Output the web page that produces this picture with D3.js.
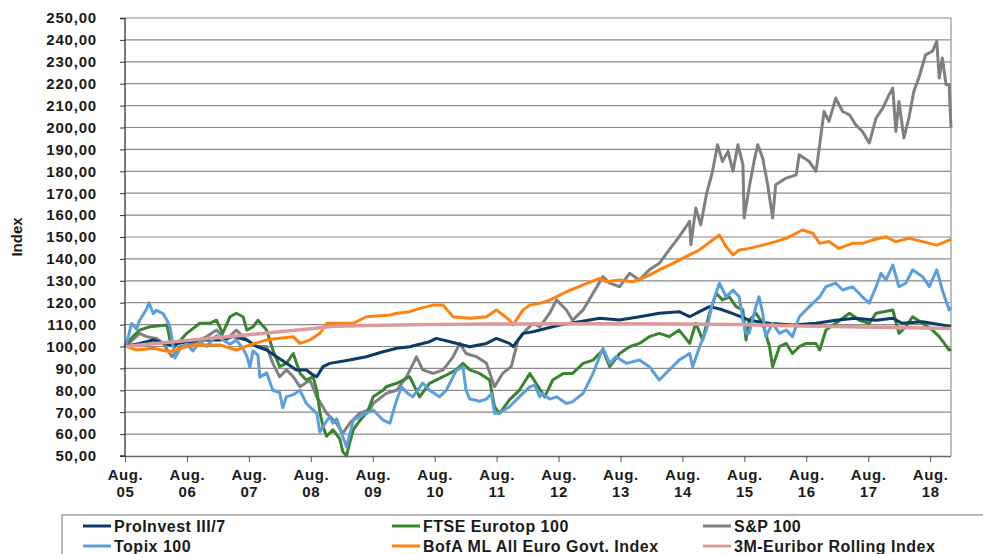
<!DOCTYPE html>
<html>
<head>
<meta charset="utf-8">
<script src="https://cdn.jsdelivr.net/npm/d3@7"></script>
<style>
  body { margin: 0; background: #fff; }
  text { font-family: "Liberation Sans", Arial, sans-serif; font-weight: bold; fill: #1a1a1a; }
</style>
</head>
<body>
<div id="chart"></div>
<script>
// Values, [decimal year, index]
const proInvest = [[2005.58,100],[2005.82,101.4],[2006.04,103],[2006.31,100.7],[2006.58,102.2],[2006.85,103],[2007.12,103],[2007.33,104.5],[2007.55,103],[2007.71,100],[2007.87,98.4],[2008.03,95.3],[2008.19,92.3],[2008.35,89.3],[2008.51,89.3],[2008.62,87],[2008.68,86.2],[2008.78,90.8],[2008.89,92.3],[2009.21,93.8],[2009.48,95.3],[2009.75,97.6],[2009.97,99.2],[2010.18,99.9],[2010.5,102.2],[2010.61,103.7],[2010.83,102.2],[2011.15,99.9],[2011.42,101.4],[2011.58,103.7],[2011.79,101.4],[2011.85,99.9],[2012.01,106],[2012.17,106.7],[2012.28,107.5],[2012.6,109.8],[2012.92,111.3],[2013.25,112.9],[2013.57,112.1],[2013.89,113.6],[2014.21,115.2],[2014.53,115.9],[2014.7,113.6],[2014.86,115.9],[2015.02,118.2],[2015.2,117],[2015.4,115],[2015.66,112],[2015.99,110.6],[2016.36,109.8],[2016.74,110.6],[2017.06,112],[2017.38,112.9],[2017.71,112],[2017.98,112.9],[2018.13,110.6],[2018.46,111.3],[2018.78,109.8],[2018.92,109]];

const topix = [[2005.58,100],[2005.61,101.5],[2005.69,110.5],[2005.77,108],[2005.82,112],[2005.93,117],[2005.97,120],[2006.04,115],[2006.09,116.5],[2006.2,115],[2006.26,112],[2006.31,109],[2006.39,94.7],[2006.47,99],[2006.58,101],[2006.68,98],[2006.79,102],[2006.9,100],[2007.06,105],[2007.16,103],[2007.28,101],[2007.38,103],[2007.49,99],[2007.55,95.6],[2007.6,90.5],[2007.65,98],[2007.73,96],[2007.76,86],[2007.87,88],[2007.97,80],[2008.08,79],[2008.13,72],[2008.19,77],[2008.3,78],[2008.41,80],[2008.51,74],[2008.62,71],[2008.68,69.6],[2008.73,61],[2008.78,63.4],[2008.84,66],[2008.89,68],[2008.94,65],[2009.0,67],[2009.1,58.8],[2009.16,54.2],[2009.27,66.4],[2009.37,68],[2009.48,69.6],[2009.59,71],[2009.75,66.4],[2009.86,65],[2009.97,75.6],[2010.05,81.6],[2010.13,79],[2010.23,77],[2010.39,83.3],[2010.5,80],[2010.66,77],[2010.77,80],[2010.93,89],[2011.04,90.8],[2011.09,80],[2011.15,76],[2011.31,75],[2011.42,76],[2011.5,78.6],[2011.55,69.5],[2011.63,69.6],[2011.79,72.5],[2011.95,77],[2012.12,81.6],[2012.2,82.4],[2012.28,77],[2012.32,78.6],[2012.44,76],[2012.55,77],[2012.71,74],[2012.81,74.8],[2012.98,78.6],[2013.14,87.7],[2013.3,99.2],[2013.41,92.3],[2013.51,95.3],[2013.68,92.3],[2013.89,93.8],[2014.05,90.8],[2014.21,84.7],[2014.37,89.3],[2014.53,93.8],[2014.7,96.8],[2014.75,90.8],[2014.86,99.9],[2014.97,107.5],[2015.07,119.8],[2015.18,128.9],[2015.29,122.7],[2015.4,125.8],[2015.5,122.7],[2015.56,112],[2015.61,106],[2015.66,106],[2015.77,118.2],[2015.82,122.7],[2015.88,115.2],[2015.93,104.5],[2016.04,110.6],[2016.15,106],[2016.26,107.5],[2016.36,104.5],[2016.47,113.6],[2016.58,116.7],[2016.69,119.8],[2016.8,122.7],[2016.9,127.3],[2017.06,128.9],[2017.17,125.8],[2017.33,127.3],[2017.49,122.7],[2017.6,119.8],[2017.71,127.3],[2017.79,133.4],[2017.87,130.4],[2017.98,137.2],[2018.08,127.3],[2018.19,128.9],[2018.3,135],[2018.46,131.9],[2018.57,127.3],[2018.69,135],[2018.78,125.8],[2018.89,116.7],[2018.92,118]];

const ftse = [[2005.58,100],[2005.61,101.4],[2005.71,104.5],[2005.82,107.5],[2005.98,109],[2006.26,109.8],[2006.31,103],[2006.39,100],[2006.58,106],[2006.79,110.6],[2006.95,110.6],[2007.06,112],[2007.16,106],[2007.28,113.6],[2007.38,115.2],[2007.49,113.6],[2007.55,107.5],[2007.65,109],[2007.73,112],[2007.87,107.5],[2007.97,98.4],[2008.08,90.8],[2008.19,92.3],[2008.3,96.8],[2008.41,87.7],[2008.51,84.7],[2008.62,86.2],[2008.68,80],[2008.73,70],[2008.78,63.4],[2008.84,59],[2008.94,62],[2009.05,58],[2009.1,52],[2009.16,50],[2009.21,56],[2009.27,62],[2009.37,66],[2009.48,69.5],[2009.53,72.5],[2009.59,77],[2009.75,80],[2009.8,81.6],[2009.97,83.2],[2010.18,86.2],[2010.34,77],[2010.5,83.2],[2010.72,86.2],[2010.93,89.3],[2011.04,92.3],[2011.15,89.3],[2011.31,87.7],[2011.47,84.7],[2011.55,72.5],[2011.63,69.5],[2011.79,75.6],[2011.95,80],[2012.12,87.7],[2012.22,83.2],[2012.36,77],[2012.49,84.7],[2012.66,87.7],[2012.81,87.7],[2012.98,92.3],[2013.14,93.8],[2013.3,98.4],[2013.41,90.8],[2013.57,96.8],[2013.73,99.9],[2013.89,101.4],[2014.05,104.5],[2014.21,106],[2014.37,104.5],[2014.53,107.5],[2014.7,101.4],[2014.8,110.6],[2014.91,103],[2015.02,115.2],[2015.13,124.3],[2015.23,121.3],[2015.34,122.7],[2015.45,118.2],[2015.56,116.7],[2015.61,103],[2015.66,112],[2015.77,115.2],[2015.88,110.6],[2015.99,99.9],[2016.04,90.8],[2016.15,99.9],[2016.26,101.4],[2016.36,96.8],[2016.47,99.9],[2016.58,101.4],[2016.74,101.4],[2016.8,98.4],[2016.9,107.5],[2017.06,110.6],[2017.28,115.2],[2017.44,112],[2017.6,110.6],[2017.71,115.2],[2017.98,116.7],[2018.08,106],[2018.19,109],[2018.3,113.6],[2018.46,110.6],[2018.62,107.5],[2018.73,104.5],[2018.89,98.4],[2018.92,99]];

const sp100 = [[2005.58,100],[2005.61,100.5],[2005.82,106],[2005.93,104.5],[2006.09,103.7],[2006.2,101.4],[2006.34,95.4],[2006.47,99.9],[2006.68,101.4],[2006.9,104.5],[2007.06,107.5],[2007.22,103],[2007.38,107.5],[2007.55,103],[2007.71,100],[2007.87,100],[2007.97,92.3],[2008.08,86.2],[2008.19,89.3],[2008.3,86.2],[2008.41,81.6],[2008.57,84.7],[2008.68,77],[2008.84,69.5],[2009.0,64.9],[2009.1,60.3],[2009.21,64.9],[2009.37,69.5],[2009.53,71],[2009.59,74],[2009.8,78.6],[2009.97,80],[2010.13,86.2],[2010.29,95.3],[2010.39,89.3],[2010.56,87.7],[2010.72,89.3],[2010.88,95.3],[2010.99,101.4],[2011.09,96.8],[2011.26,95.3],[2011.42,92.3],[2011.55,81.6],[2011.68,87.7],[2011.82,90.8],[2011.93,103],[2012.06,107.5],[2012.17,110.6],[2012.28,109],[2012.44,115.2],[2012.55,121.3],[2012.71,116.7],[2012.81,112],[2012.98,116.7],[2013.14,124.3],[2013.3,131.9],[2013.41,128.9],[2013.57,127.3],[2013.73,133.4],[2013.89,130.4],[2014.05,135],[2014.21,138],[2014.37,144.1],[2014.53,150.1],[2014.59,152.6],[2014.7,157.2],[2014.72,146.5],[2014.8,163.2],[2014.88,155.6],[2014.97,169.3],[2015.07,180],[2015.15,192.1],[2015.23,184.5],[2015.32,189.1],[2015.4,180],[2015.48,192.1],[2015.56,183],[2015.58,158.7],[2015.66,172.4],[2015.74,184.5],[2015.8,192.1],[2015.88,186],[2015.96,173.9],[2016.04,158.7],[2016.09,173.9],[2016.26,176.9],[2016.42,178.4],[2016.47,187.6],[2016.63,184.5],[2016.74,180],[2016.8,192.1],[2016.87,207.3],[2016.95,202.8],[2017.06,213.4],[2017.17,207.3],[2017.28,205.8],[2017.38,201.3],[2017.49,198.2],[2017.6,192.9],[2017.71,204.3],[2017.82,208.9],[2017.92,215],[2017.98,218],[2018.03,198.2],[2018.08,211.9],[2018.16,195.2],[2018.24,204.3],[2018.32,216.5],[2018.4,222.6],[2018.51,233.2],[2018.62,234.8],[2018.69,239.3],[2018.73,222.6],[2018.78,231.7],[2018.84,219.6],[2018.89,219.6],[2018.92,199.8]];

const bofa = [[2005.58,100],[2005.61,100],[2005.77,98.4],[2006.04,99.2],[2006.31,97.6],[2006.58,100],[2006.85,100.7],[2007.12,100.7],[2007.38,98.4],[2007.6,100.7],[2007.87,103],[2008.08,103.8],[2008.3,104.5],[2008.41,101.4],[2008.57,103],[2008.73,106],[2008.84,110.6],[2009.27,110.6],[2009.48,113.6],[2009.86,114.4],[2009.97,115.2],[2010.18,115.9],[2010.34,117.4],[2010.56,118.9],[2010.72,118.9],[2010.88,113.6],[2011.15,112.9],[2011.42,113.6],[2011.58,116.7],[2011.79,112.1],[2011.85,109.8],[2012.01,116.7],[2012.12,118.9],[2012.28,119.7],[2012.44,121.2],[2012.71,125],[2012.98,128.1],[2013.25,131.1],[2013.35,129.6],[2013.57,130.4],[2013.78,129.6],[2014.0,131.9],[2014.21,135],[2014.43,138],[2014.64,141],[2014.86,144.1],[2015.07,148.6],[2015.18,150.9],[2015.29,145.6],[2015.4,141.8],[2015.5,144.1],[2015.66,144.8],[2015.88,146.3],[2016.09,147.9],[2016.26,149.4],[2016.42,151.7],[2016.52,153.2],[2016.69,151.7],[2016.8,147.1],[2016.95,147.9],[2017.11,144.8],[2017.33,147.1],[2017.49,147.1],[2017.65,148.6],[2017.87,150.1],[2018.03,147.9],[2018.24,149.4],[2018.46,147.9],[2018.69,146.3],[2018.89,148.6],[2018.92,149]];

const euribor = [[2005.58,100],[2006.58,102.7],[2007.58,105.4],[2008.58,108.1],[2008.95,109.2],[2009.5,109.6],[2010.5,110],[2011.5,110.3],[2012.5,110.4],[2013.5,110.4],[2014.5,110.3],[2015.5,110],[2016.5,109.4],[2017.5,108.9],[2018.5,108.5],[2018.92,108.2]];

const yTicks = d3.range(50, 251, 10);
const xTickYears = ["05","06","07","08","09","10","11","12","13","14","15","16","17","18"];

const series = [
  { name: "S&P 100", data: sp100, color: "#808080" },
  { name: "FTSE Eurotop 100", data: ftse, color: "#3a8431" },
  { name: "ProInvest III/7", data: proInvest, color: "#0d3b66" },
  { name: "Topix 100", data: topix, color: "#5a9fdc" },
  { name: "BofA ML All Euro Govt. Index", data: bofa, color: "#ff8210" },
  { name: "3M-Euribor Rolling Index", data: euribor, color: "#dc9a9a" }
];

// legend order as in the reference (3 columns, 2 rows)
const legendOrder = ["ProInvest III/7", "FTSE Eurotop 100", "S&P 100",
                     "Topix 100", "BofA ML All Euro Govt. Index", "3M-Euribor Rolling Index"];

const W = 983, H = 554;
const margin = { top: 18, right: 32, bottom: 98, left: 125 };
const width = W - margin.left - margin.right;
const height = H - margin.top - margin.bottom;

const svg = d3.select("#chart").append("svg")
  .attr("width", W)
  .attr("height", H);

const g = svg.append("g")
  .attr("transform", "translate(" + margin.left + "," + margin.top + ")");

const x = d3.scaleLinear()
  .domain([2005 + 7 / 12, 2018.92])
  .range([0, width]);

const y = d3.scaleLinear()
  .domain([50, 250])
  .range([height, 0]);

// horizontal gridlines
g.selectAll("line.grid")
  .data(yTicks.filter(d => d > 50))
  .enter().append("line")
  .attr("class", "grid")
  .attr("x1", 0).attr("x2", width)
  .attr("y1", d => y(d)).attr("y2", d => y(d))
  .style("stroke", "#8a8a8a")
  .style("stroke-width", 1.2);

// right border of plot area
g.append("line")
  .attr("x1", width).attr("x2", width)
  .attr("y1", 0).attr("y2", height)
  .style("stroke", "#a8a8a8")
  .style("stroke-width", 1.5);

// lines
const line = d3.line()
  .x(d => x(d[0]))
  .y(d => y(Math.max(50, d[1])));

g.selectAll("path.series")
  .data(series)
  .enter().append("path")
  .attr("class", "series")
  .attr("d", d => line(d.data))
  .attr("fill", "none")
  .attr("stroke", d => d.color)
  .attr("stroke-width", d => d.name.startsWith("3M") ? 3.5 : 3)
  .attr("stroke-linejoin", "round");

// y axis
const yAxis = d3.axisLeft(y)
  .tickValues(yTicks)
  .tickSize(5)
  .tickPadding(23)
  .tickFormat(d => d3.format(".2f")(d).replace(".", ","));

g.append("g")
  .attr("class", "y axis")
  .call(yAxis)
  .call(a => a.selectAll("path, line").style("stroke", "#333"))
  .call(a => a.select(".domain").attr("d", "M-5,0.5H0V" + height + "H-5").style("stroke-width", 1.3))
  .selectAll("text")
  .style("font-size", "15px")
  .style("letter-spacing", "0.8px")
  .attr("fill", "#1a1a1a");

// x axis
const xAxis = d3.axisBottom(x)
  .tickValues(xTickYears.map((d, i) => 2005 + 7 / 12 + i))
  .tickSize(6)
  .tickFormat("");

const xg = g.append("g")
  .attr("class", "x axis")
  .attr("transform", "translate(0," + height + ")")
  .call(xAxis);
xg.select(".domain").attr("d", "M0,0.5H" + width).style("stroke", "#666").style("stroke-width", 1.3);
xg.selectAll(".tick line").style("stroke", "#555");

const ticks = xg.selectAll(".tick");
ticks.append("text")
  .attr("y", 24)
  .attr("text-anchor", "middle")
  .style("font-size", "15px")
  .style("letter-spacing", "0.6px")
  .attr("fill", "#1a1a1a")
  .text("Aug.");
ticks.append("text")
  .attr("y", 41)
  .attr("text-anchor", "middle")
  .style("font-size", "15px")
  .style("letter-spacing", "0.6px")
  .attr("fill", "#1a1a1a")
  .text((d, i) => xTickYears[i]);

// y title
svg.append("text")
  .attr("transform", "translate(22,237) rotate(-90)")
  .attr("text-anchor", "middle")
  .style("font-size", "15px")
  .text("Index");

// legend
const legend = svg.append("g");
legend.append("rect")
  .attr("x", 62).attr("y", 515)
  .attr("width", 940).attr("height", 60)
  .attr("fill", "none")
  .attr("stroke", "#8a8a8a")
  .attr("stroke-width", 1.2);

const colX = [83, 392, 703];
const rowY = [526, 546];
const items = legend.selectAll("g.item")
  .data(legendOrder.map(n => series.find(s => s.name === n)))
  .enter().append("g")
  .attr("class", "item")
  .attr("transform", (d, i) => "translate(" + colX[i % 3] + "," + rowY[Math.floor(i / 3)] + ")");

items.append("line")
  .attr("x1", 0).attr("x2", 28)
  .attr("stroke", d => d.color)
  .attr("stroke-width", 3);

items.append("text")
  .attr("x", 31)
  .attr("y", 6)
  .style("font-size", "16px")
  .style("letter-spacing", "0.5px")
  .text(d => d.name);
</script>
</body>
</html>
